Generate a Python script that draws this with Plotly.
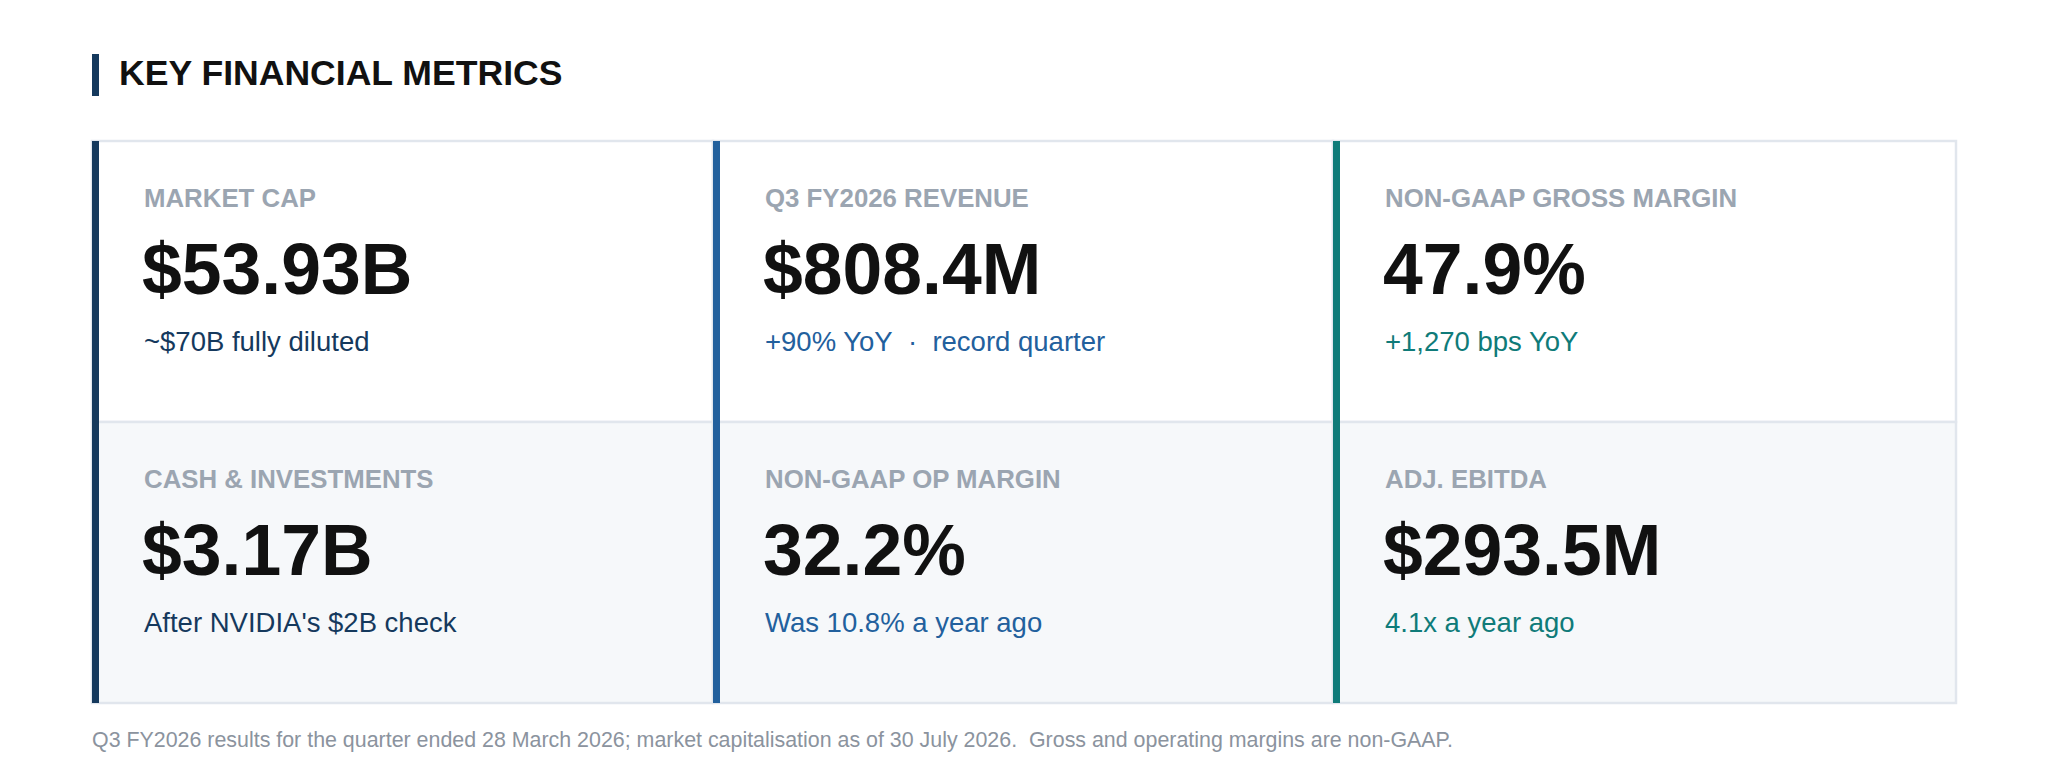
import plotly.graph_objects as go

# ---- data ----
title = "KEY FINANCIAL METRICS"
labels = ["MARKET CAP", "Q3 FY2026 REVENUE", "NON-GAAP GROSS MARGIN",
          "CASH & INVESTMENTS", "NON-GAAP OP MARGIN", "ADJ. EBITDA"]
values = ["$53.93B", "$808.4M", "47.9%", "$3.17B", "32.2%", "$293.5M"]
subs = ["~$70B fully diluted",
        "+90% YoY\u00a0\u00a0·\u00a0\u00a0record quarter",
        "+1,270 bps YoY",
        "After NVIDIA's $2B check",
        "Was 10.8% a year ago",
        "4.1x a year ago"]
col_colors = ["#15395d", "#22609d", "#0f7b79"]
footer = ("Q3 FY2026 results for the quarter ended 28 March 2026; market capitalisation "
          "as of 30 July 2026.\u00a0\u00a0Gross and operating margins are non-GAAP.")

W, H = 2048, 768
OFF = 8  # page body margin; axis ranges shifted so data coords == screen px
FONT = "Liberation Sans, Arial, sans-serif"

col_x = [92, 713, 1333, 1956]
row_y = [141, 422, 703]
row_fill = ["#ffffff", "#f6f8fa"]
border = "#e1e6ed"
bar_w = 7

fig = go.Figure()
shapes = []
annotations = []

for r in range(2):
    for c in range(3):
        shapes.append(dict(type="rect", xref="x", yref="y",
                           x0=col_x[c], x1=col_x[c + 1], y0=row_y[r], y1=row_y[r + 1],
                           fillcolor=row_fill[r], line=dict(color=border, width=2.5),
                           layer="below"))
for c in range(3):
    shapes.append(dict(type="rect", xref="x", yref="y",
                       x0=col_x[c], x1=col_x[c] + bar_w, y0=row_y[0], y1=row_y[2],
                       fillcolor=col_colors[c], line=dict(width=0), layer="below"))

# title bar
shapes.append(dict(type="rect", xref="x", yref="y", x0=92, x1=99, y0=54, y1=96,
                   fillcolor=col_colors[0], line=dict(width=0), layer="below"))
annotations.append(dict(x=117, y=73, xref="x", yref="y", text="<b>" + title + "</b>",
                        showarrow=False, xanchor="left", yanchor="middle",
                        font=dict(family=FONT, size=35.6, color="#111111")))

for i in range(6):
    r, c = divmod(i, 3)
    x0 = col_x[c] + 50
    oy = row_y[r] - row_y[0]
    annotations.append(dict(x=x0, y=198 + oy, xref="x", yref="y",
                            text="<b>" + labels[i] + "</b>", showarrow=False,
                            xanchor="left", yanchor="middle",
                            font=dict(family=FONT, size=25.8, color="#9ba5b1")))
    annotations.append(dict(x=x0 - 2, y=269 + oy, xref="x", yref="y",
                            text="<b>" + values[i] + "</b>", showarrow=False,
                            xanchor="left", yanchor="middle",
                            font=dict(family=FONT, size=71.5, color="#111111")))
    annotations.append(dict(x=x0, y=341 + oy, xref="x", yref="y",
                            text=subs[i], showarrow=False,
                            xanchor="left", yanchor="middle",
                            font=dict(family=FONT, size=27.5, color=col_colors[c])))

annotations.append(dict(x=90, y=740, xref="x", yref="y", text=footer, showarrow=False,
                        xanchor="left", yanchor="middle",
                        font=dict(family=FONT, size=21.4, color="#8b939e")))

fig.update_layout(
    width=W, height=H, margin=dict(l=0, r=0, t=0, b=0),
    paper_bgcolor="#ffffff", plot_bgcolor="#ffffff",
    xaxis=dict(range=[OFF, W + OFF], visible=False, fixedrange=True),
    yaxis=dict(range=[H + OFF, OFF], visible=False, fixedrange=True),
    shapes=shapes, annotations=annotations, showlegend=False,
)
fig.write_html("out.html", config={"displayModeBar": False})
